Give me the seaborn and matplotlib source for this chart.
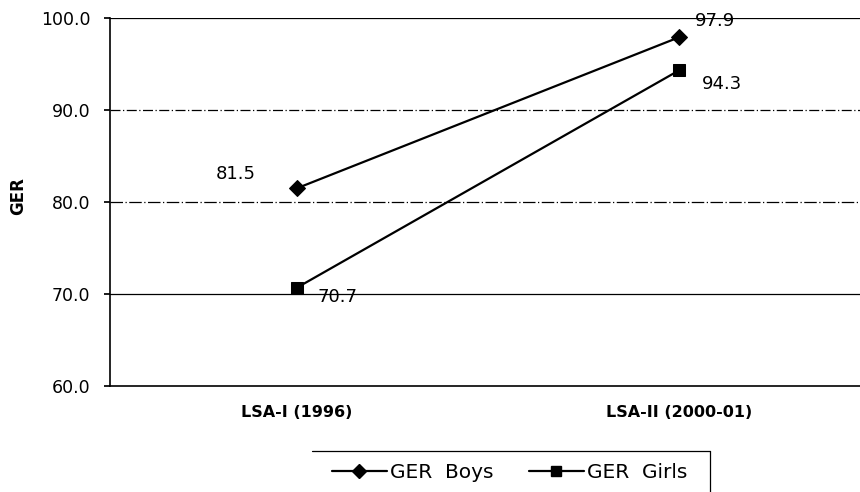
import pandas as pd
import matplotlib.pyplot as plt
import seaborn as sns
from matplotlib.lines import Line2D

# --- Data ---
surveys = ["LSA-I (1996)", "LSA-II (2000-01)"]
ger_boys = [81.5, 97.9]
ger_girls = [70.7, 94.3]
series_names = ["GER  Boys", "GER  Girls"]

df = pd.DataFrame({
    "survey": surveys * 2,
    "ger": ger_boys + ger_girls,
    "series": [series_names[0]] * 2 + [series_names[1]] * 2,
})

# --- Chart ---
sns.set_theme(style="white")
plt.rcParams["font.family"] = ["DejaVu Sans"]
plt.rcParams["text.color"] = "black"
plt.rcParams["axes.labelcolor"] = "black"
plt.rcParams["xtick.color"] = "black"
plt.rcParams["ytick.color"] = "black"

fig = plt.figure(figsize=(8.6, 4.92), dpi=100)
ax = fig.add_axes([110 / 860, 1 - 386 / 492, 756 / 860, 368 / 492])

sns.lineplot(data=df, x="survey", y="ger", hue="series", style="series",
             markers={series_names[0]: "D", series_names[1]: "s"}, dashes=False,
             palette={series_names[0]: "black", series_names[1]: "black"},
             markersize=8, linewidth=1.6, markeredgecolor="black", ax=ax, legend=False,
             zorder=3)

ax.set_xlim(-0.49, 1.49)
ax.set_ylim(60, 100)
ax.set_yticks([60, 70, 80, 90, 100])
ax.set_yticklabels([f"{v:.1f}" for v in [60, 70, 80, 90, 100]], fontsize=12.5)
ax.set_xticks([0, 1])
ax.set_xticklabels(surveys, fontsize=11.5, fontweight="bold")
ax.tick_params(axis="x", pad=14, length=0)
ax.tick_params(axis="y", pad=10, length=4, direction="out", left=True, color="black")
ax.set_xlabel("")
ax.set_ylabel("GER", fontsize=12, fontweight="bold", va="center")
ax.yaxis.set_label_coords(-92 / 756, 0.515)

for v, ls in [(100, "-"), (90, (0, (8, 2, 1, 2))), (80, (0, (10, 2, 1, 2))), (70, "-")]:
    ax.axhline(v, color="black", lw=0.9, ls=ls, zorder=1)

for s in ["top", "right"]:
    ax.spines[s].set_visible(False)
ax.spines["left"].set_color("black")
ax.spines["bottom"].set_color("black")
ax.spines["left"].set_linewidth(1.2)
ax.spines["bottom"].set_linewidth(1.2)

# data labels
offsets_boys = [(-81, 14), (16, 16)]
offsets_girls = [(20, -9), (23, -14)]
for i in range(2):
    ax.annotate(f"{ger_boys[i]:.1f}", (i, ger_boys[i]), xytext=offsets_boys[i],
                textcoords="offset pixels", fontsize=13, ha="left", va="center")
    ax.annotate(f"{ger_girls[i]:.1f}", (i, ger_girls[i]), xytext=offsets_girls[i],
                textcoords="offset pixels", fontsize=13, ha="left", va="center")

# legend
handles = [
    Line2D([], [], color="black", marker="D", markersize=7, lw=1.6),
    Line2D([], [], color="black", marker="s", markersize=7, lw=1.6),
]
leg = fig.legend(handles, series_names, loc="center left", ncol=2,
                 bbox_to_anchor=(314 / 860, 1 - 473 / 492), frameon=False,
                 fontsize=14.5, handlelength=2.7, handletextpad=0.15, columnspacing=1.8)
fig.add_artist(Line2D([312 / 860, 710 / 860], [1 - 451 / 492] * 2,
                      transform=fig.transFigure, color="black", lw=0.9))
fig.add_artist(Line2D([710 / 860] * 2, [1 - 451 / 492, 0],
                      transform=fig.transFigure, color="black", lw=0.9))

fig.savefig("out.png", dpi=100, facecolor="white")
